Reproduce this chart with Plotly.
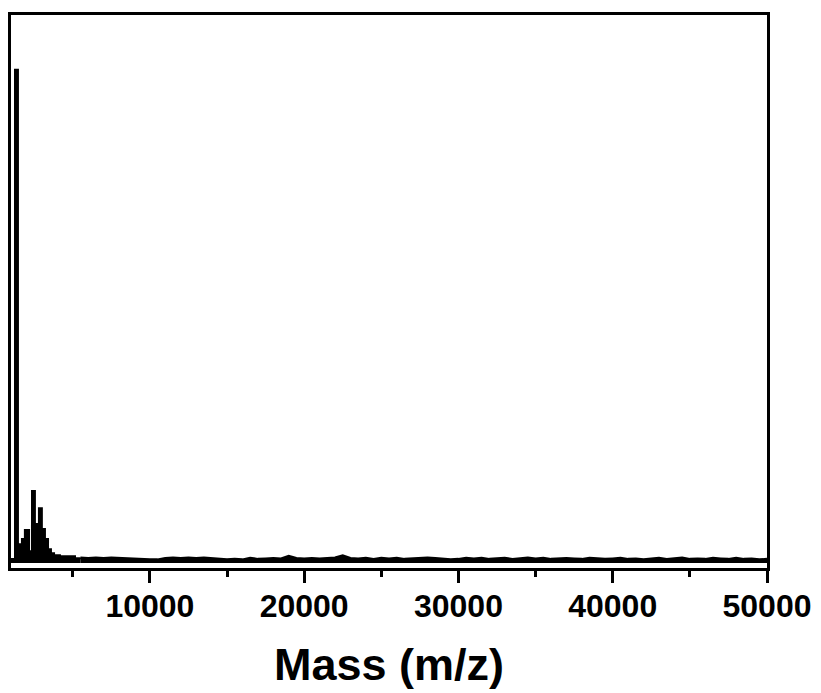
import plotly.graph_objects as go

# Low-mass cluster (m/z, normalized intensity), drawn as steps
cluster_mz = [1000, 1260, 1450, 1710, 1900, 2170, 2360, 2550, 2810, 3000,
              3200, 3400, 3590, 3790, 4170, 5150, 5500]
cluster_int = [0.008, 1.0, 0.038, 0.049, 0.067, 0.024, 0.146, 0.079, 0.111, 0.069,
               0.049, 0.028, 0.020, 0.016, 0.014, 0.010, 0.011]

# Baseline noise above 5500 m/z
noise_mz = list(range(5500, 50001, 500))
noise_int = [0.011, 0.010, 0.011, 0.010, 0.011, 0.010, 0.010, 0.009, 0.007, 0.007,
             0.007, 0.010, 0.011, 0.010, 0.011, 0.010, 0.011, 0.010, 0.009, 0.007,
             0.008, 0.007, 0.010, 0.008, 0.009, 0.010, 0.009, 0.014, 0.010, 0.009,
             0.010, 0.009, 0.010, 0.011, 0.015, 0.010, 0.009, 0.010, 0.008, 0.010,
             0.009, 0.010, 0.008, 0.009, 0.010, 0.011, 0.010, 0.009, 0.007, 0.008,
             0.010, 0.009, 0.010, 0.008, 0.009, 0.010, 0.008, 0.010, 0.011, 0.009,
             0.010, 0.008, 0.009, 0.010, 0.009, 0.008, 0.010, 0.009, 0.008, 0.009,
             0.010, 0.008, 0.009, 0.007, 0.009, 0.010, 0.008, 0.010, 0.011, 0.008,
             0.009, 0.008, 0.010, 0.009, 0.008, 0.010, 0.008, 0.009, 0.007, 0.008]

tick_vals = [10000, 20000, 30000, 40000, 50000]
tick_text = ["10000", "20000", "30000", "40000", "50000"]

fig = go.Figure()
fig.add_trace(go.Scatter(x=cluster_mz, y=cluster_int, mode="lines",
                         line=dict(color="black", width=2, shape="hv"),
                         fill="tozeroy", fillcolor="black", showlegend=False))
fig.add_trace(go.Scatter(x=noise_mz, y=noise_int, mode="lines",
                         line=dict(color="black", width=2.5),
                         fill="tozeroy", fillcolor="black", showlegend=False))

fig.update_layout(
    width=821, height=693,
    margin=dict(l=11, r=54, t=15, b=125),
    paper_bgcolor="white", plot_bgcolor="white",
    font=dict(family="Liberation Sans, Arial, sans-serif", color="black"),
)
fig.update_xaxes(
    range=[1000, 50000],
    tickvals=tick_vals, ticktext=tick_text,
    ticks="outside", ticklen=12, tickwidth=3, tickcolor="black",
    minor=dict(tickvals=[5000, 15000, 25000, 35000, 45000], ticks="outside",
               ticklen=6, tickwidth=3, tickcolor="black"),
    showline=True, linewidth=3, linecolor="black", mirror=True,
    showgrid=False, zeroline=False,
    ticklabelstandoff=-4,
    tickfont=dict(size=32, weight="bold"),
    title=dict(text="Mass (m/z)", font=dict(size=45, weight="bold"), standoff=26),
)
fig.update_yaxes(
    range=[-0.010, 1.111],
    showticklabels=False, ticks="",
    showline=True, linewidth=3, linecolor="black", mirror=True,
    showgrid=False, zeroline=False,
)

fig.write_html("out.html")
